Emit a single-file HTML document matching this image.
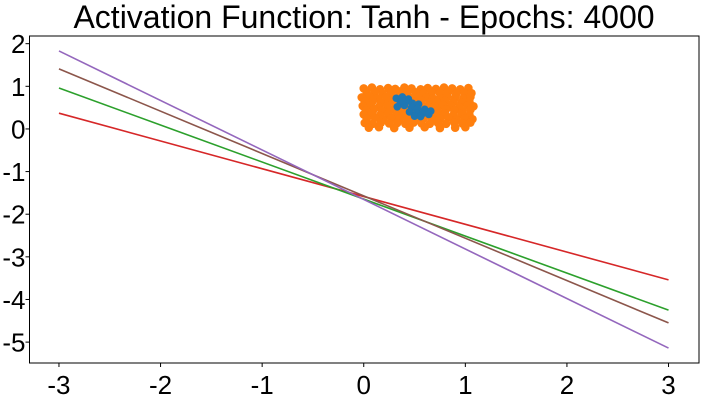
<!DOCTYPE html>
<html><head><meta charset="utf-8">
<style>
html,body{margin:0;padding:0;background:#fff;}
svg{display:block;font-family:"Liberation Sans",Arial,sans-serif;}
</style></head>
<body>
<svg id="chart" width="705" height="401" viewBox="0 0 705 401">
<text x="364" y="28" font-size="32" text-anchor="middle" fill="#000">Activation Function: Tanh - Epochs: 4000</text>
<g id="plot"></g>
<g id="axes"></g>
</svg>
<script>
const lineNames = ['red','green','brown','purple'];
const lineColors = ['#d62728','#2ca02c','#8c564b','#9467bd'];
const lineStartY = [0.37, 0.96, 1.41, 1.83];
const lineEndY = [-3.54, -4.25, -4.55, -5.14];
const lineX = [-3, 3];
const xTicks = [-3,-2,-1,0,1,2,3];
const yTicks = [2,1,0,-1,-2,-3,-4,-5];
const orangeX = [0.00,0.08,0.16,0.24,0.31,0.40,0.47,0.56,0.63,0.71,0.79,0.87,0.95,1.03,
 0.03,0.11,0.19,0.27,0.35,0.43,0.51,0.59,0.67,0.75,0.83,0.91,0.99,1.06,
 -0.02,0.06,0.14,0.22,0.30,0.38,0.46,0.54,0.62,0.68,0.75,0.82,0.90,0.98,1.05,
 0.01,0.09,0.17,0.25,0.33,0.41,0.49,0.57,0.65,0.72,0.80,0.88,0.96,1.04,
 -0.01,0.07,0.15,0.23,0.31,0.39,0.47,0.55,0.63,0.70,0.78,0.86,0.94,1.02,1.08,
 0.02,0.10,0.18,0.26,0.34,0.42,0.50,0.58,0.66,0.73,0.81,0.89,0.97,1.05,
 0.00,0.08,0.16,0.24,0.32,0.40,0.48,0.56,0.64,0.72,0.80,0.88,0.96,1.04,
 0.03,0.11,0.19,0.27,0.35,0.43,0.51,0.59,0.67,0.75,0.83,0.91,0.99,1.07,
 0.01,0.09,0.17,0.25,0.33,0.41,0.49,0.57,0.65,0.73,0.81,0.89,0.97,1.05,
 0.05,0.15,0.30,0.45,0.60,0.75,0.90,1.00];
const orangeY = [0.95,0.97,0.93,0.96,0.94,0.97,0.95,0.93,0.96,0.94,0.97,0.95,0.93,0.96,
 0.84,0.86,0.82,0.85,0.88,0.87,0.86,0.83,0.85,0.84,0.86,0.82,0.85,0.84,
 0.74,0.76,0.72,0.75,0.74,0.76,0.73,0.75,0.74,0.72,0.73,0.76,0.74,0.72,0.75,
 0.64,0.66,0.62,0.65,0.63,0.65,0.64,0.66,0.62,0.63,0.66,0.64,0.62,0.65,
 0.54,0.56,0.52,0.55,0.53,0.55,0.54,0.56,0.53,0.53,0.56,0.54,0.52,0.55,0.53,
 0.44,0.46,0.42,0.45,0.43,0.45,0.44,0.46,0.43,0.43,0.46,0.44,0.42,0.45,
 0.34,0.36,0.32,0.35,0.33,0.34,0.36,0.35,0.33,0.34,0.36,0.32,0.35,0.33,
 0.24,0.26,0.22,0.25,0.23,0.24,0.22,0.25,0.23,0.24,0.26,0.22,0.25,0.23,
 0.14,0.12,0.15,0.13,0.14,0.12,0.15,0.13,0.12,0.14,0.12,0.15,0.13,0.15,
 0.03,0.04,0.02,0.03,0.04,0.02,0.03,0.04];
const blueX = [0.32,0.38,0.44,0.36,0.42,0.48,0.54,0.33,0.40,0.47,0.53,0.60,0.66,0.45,0.52,0.58,0.64,0.50,0.56,0.38];
const blueY = [0.72,0.75,0.70,0.62,0.64,0.60,0.58,0.52,0.55,0.50,0.48,0.46,0.42,0.40,0.38,0.36,0.34,0.30,0.29,0.66];

const L=29.5,R=699,T=36,B=363;
const xMin=-3.29,xMax=3.30,yMin=-5.49,yMax=2.18;
const sx=v=>L+(v-xMin)/(xMax-xMin)*(R-L);
const sy=v=>B-(v-yMin)/(yMax-yMin)*(B-T);
const NS='http://www.w3.org/2000/svg';
const plot=document.getElementById('plot'), axes=document.getElementById('axes');
function mk(tag,attrs,parent){const e=document.createElementNS(NS,tag);for(const k in attrs)e.setAttribute(k,attrs[k]);parent.appendChild(e);return e;}

for(let i=0;i<orangeX.length;i++){
 const c=mk('circle',{cx:sx(orangeX[i]),cy:sy(orangeY[i]),r:4.3,fill:'#ff7f0e'},plot);
 
 
}
for(let i=0;i<blueX.length;i++){
 const c=mk('circle',{cx:sx(blueX[i]),cy:sy(blueY[i]),r:3.8,fill:'#1f77b4'},plot);
 
 
}
for(let i=0;i<lineNames.length;i++){
 const l=mk('line',{x1:sx(lineX[0]),y1:sy(lineStartY[i]),x2:sx(lineX[1]),y2:sy(lineEndY[i]),stroke:lineColors[i],'stroke-width':1.6},plot);
 
 
}
const frame=mk('rect',{x:L,y:T,width:R-L,height:B-T,fill:'none',stroke:'#000','stroke-width':1},axes);


xTicks.forEach(v=>{
 const x=sx(v);
 mk('line',{x1:x,y1:B,x2:x,y2:B+4,stroke:'#000'},axes);
 const t=mk('text',{x:x,y:B+31,'font-size':26,'text-anchor':'middle',fill:'#000'},axes);
 t.textContent=v;
 
 
});
yTicks.forEach(v=>{
 const y=sy(v);
 mk('line',{x1:L-4,y1:y,x2:L,y2:y,stroke:'#000'},axes);
 const t=mk('text',{x:L-4,y:y+9.5,'font-size':26,'text-anchor':'end',fill:'#000'},axes);
 t.textContent=v;
 
 
});
</script>
</body></html>
